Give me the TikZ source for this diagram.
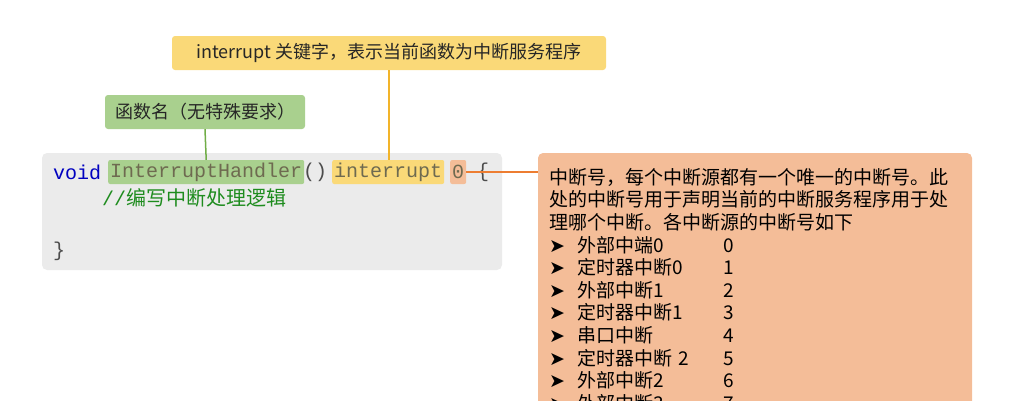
\documentclass[tikz,border=0pt]{standalone}
\usepackage{fontspec}
\setmainfont{Noto Sans CJK SC}
\setmonofont{Liberation Mono}
\newfontfamily\cjkmono{Noto Sans CJK SC}
\newfontfamily\arrowfont{DejaVu Sans}
\usetikzlibrary{positioning}
\definecolor{tagyellow}{HTML}{FAD978}
\definecolor{taggreen}{HTML}{A9D08E}
\definecolor{tagorange}{HTML}{F4BD98}
\definecolor{codegray}{HTML}{EBEBEB}
\definecolor{linkorange}{HTML}{ED7D31}
\definecolor{linkyellow}{HTML}{F2B42A}
\definecolor{linkgreen}{HTML}{70AD47}
\definecolor{kwblue}{HTML}{0000C0}
\definecolor{cmtgreen}{HTML}{1E8C1E}
\definecolor{tokgray}{HTML}{6E6A50}
\newcommand{\irqrow}[2]{{\arrowfont\char"27A4}\hspace{12pt}\makebox[146pt][l]{#1}#2}

\begin{document}
\begin{tikzpicture}[
  x=1pt, y=-1pt,
  tag/.style = {
    rectangle,
    rounded corners = 3pt,
    minimum height = 34pt,
    inner xsep = 10pt,
    font = \fontsize{18}{21}\selectfont,
    text = black!85,
  },
  token/.style = {
    rectangle,
    rounded corners = 2pt,
    minimum height = 24pt,
    inner xsep = 2pt,
    inner ysep = 0pt,
    font = \fontsize{20}{24}\ttfamily,
    text = tokgray,
  },
  code/.style = {
    inner sep = 0pt,
    font = \fontsize{20}{24}\ttfamily,
    anchor = west,
  },
  link/.style = {
    line width = 1.5pt,
  },
]
  \useasboundingbox (0,0) rectangle (1034,400);
  \clip (0,0) rectangle (1034,400);

  % code block
  \fill[codegray,rounded corners=5pt] (42,153) rectangle (502,270);
  \node[code,text=kwblue] (kwvoid) at (53,172) {void};
  \node[token,fill=taggreen,anchor=west] (fname) at (108,172) {InterruptHandler};
  \node[code,text=black!70] (parens) at (303,172) {()};
  \node[token,fill=tagyellow,anchor=west] (kwint) at (332,172) {interrupt};
  \node[token,fill=tagorange,anchor=west] (irqnum) at (450,172) {0};
  \node[code,text=black!70] (lbrace) at (477,172) {\{};
  \node[code,text=cmtgreen] (comment) at (102,198) {//{\cjkmono 编写中断处理逻辑}};
  \node[code,text=black!70] (rbrace) at (53,251) {\}};

  % tags
  \node[tag,fill=tagyellow,minimum width=434pt] (inttag) at (389,53) {interrupt 关键字，表示当前函数为中断服务程序};
  \node[tag,fill=taggreen,minimum width=196pt] (nametag) at (205,112) {函数名（无特殊要求）};

  % description box
  \fill[tagorange,rounded corners=5pt] (538,153) rectangle (972,430);
  \node[anchor=north west,inner sep=0pt,align=left,text width=410pt,
        font=\fontsize{19}{22.6}\selectfont] (irqdesc) at (549,168) {%
    中断号，每个中断源都有一个唯一的中断号。此\\
    处的中断号用于声明当前的中断服务程序用于处\\
    理哪个中断。各中断源的中断号如下\\
    \irqrow{外部中端0}{0}\\
    \irqrow{定时器中断0}{1}\\
    \irqrow{外部中断1}{2}\\
    \irqrow{定时器中断1}{3}\\
    \irqrow{串口中断}{4}\\
    \irqrow{定时器中断 2}{5}\\
    \irqrow{外部中断2}{6}\\
    \irqrow{外部中断3}{7}};
  \coordinate (descleft) at (538,172);

  % connectors
  \draw[link,linkgreen] (nametag.south) -- (fname.north);
  \draw[link,linkyellow] (inttag.south) -- (kwint.north -| inttag.south);
  \draw[link,linkorange] (irqnum.east) -- (descleft);
\end{tikzpicture}
\end{document}
